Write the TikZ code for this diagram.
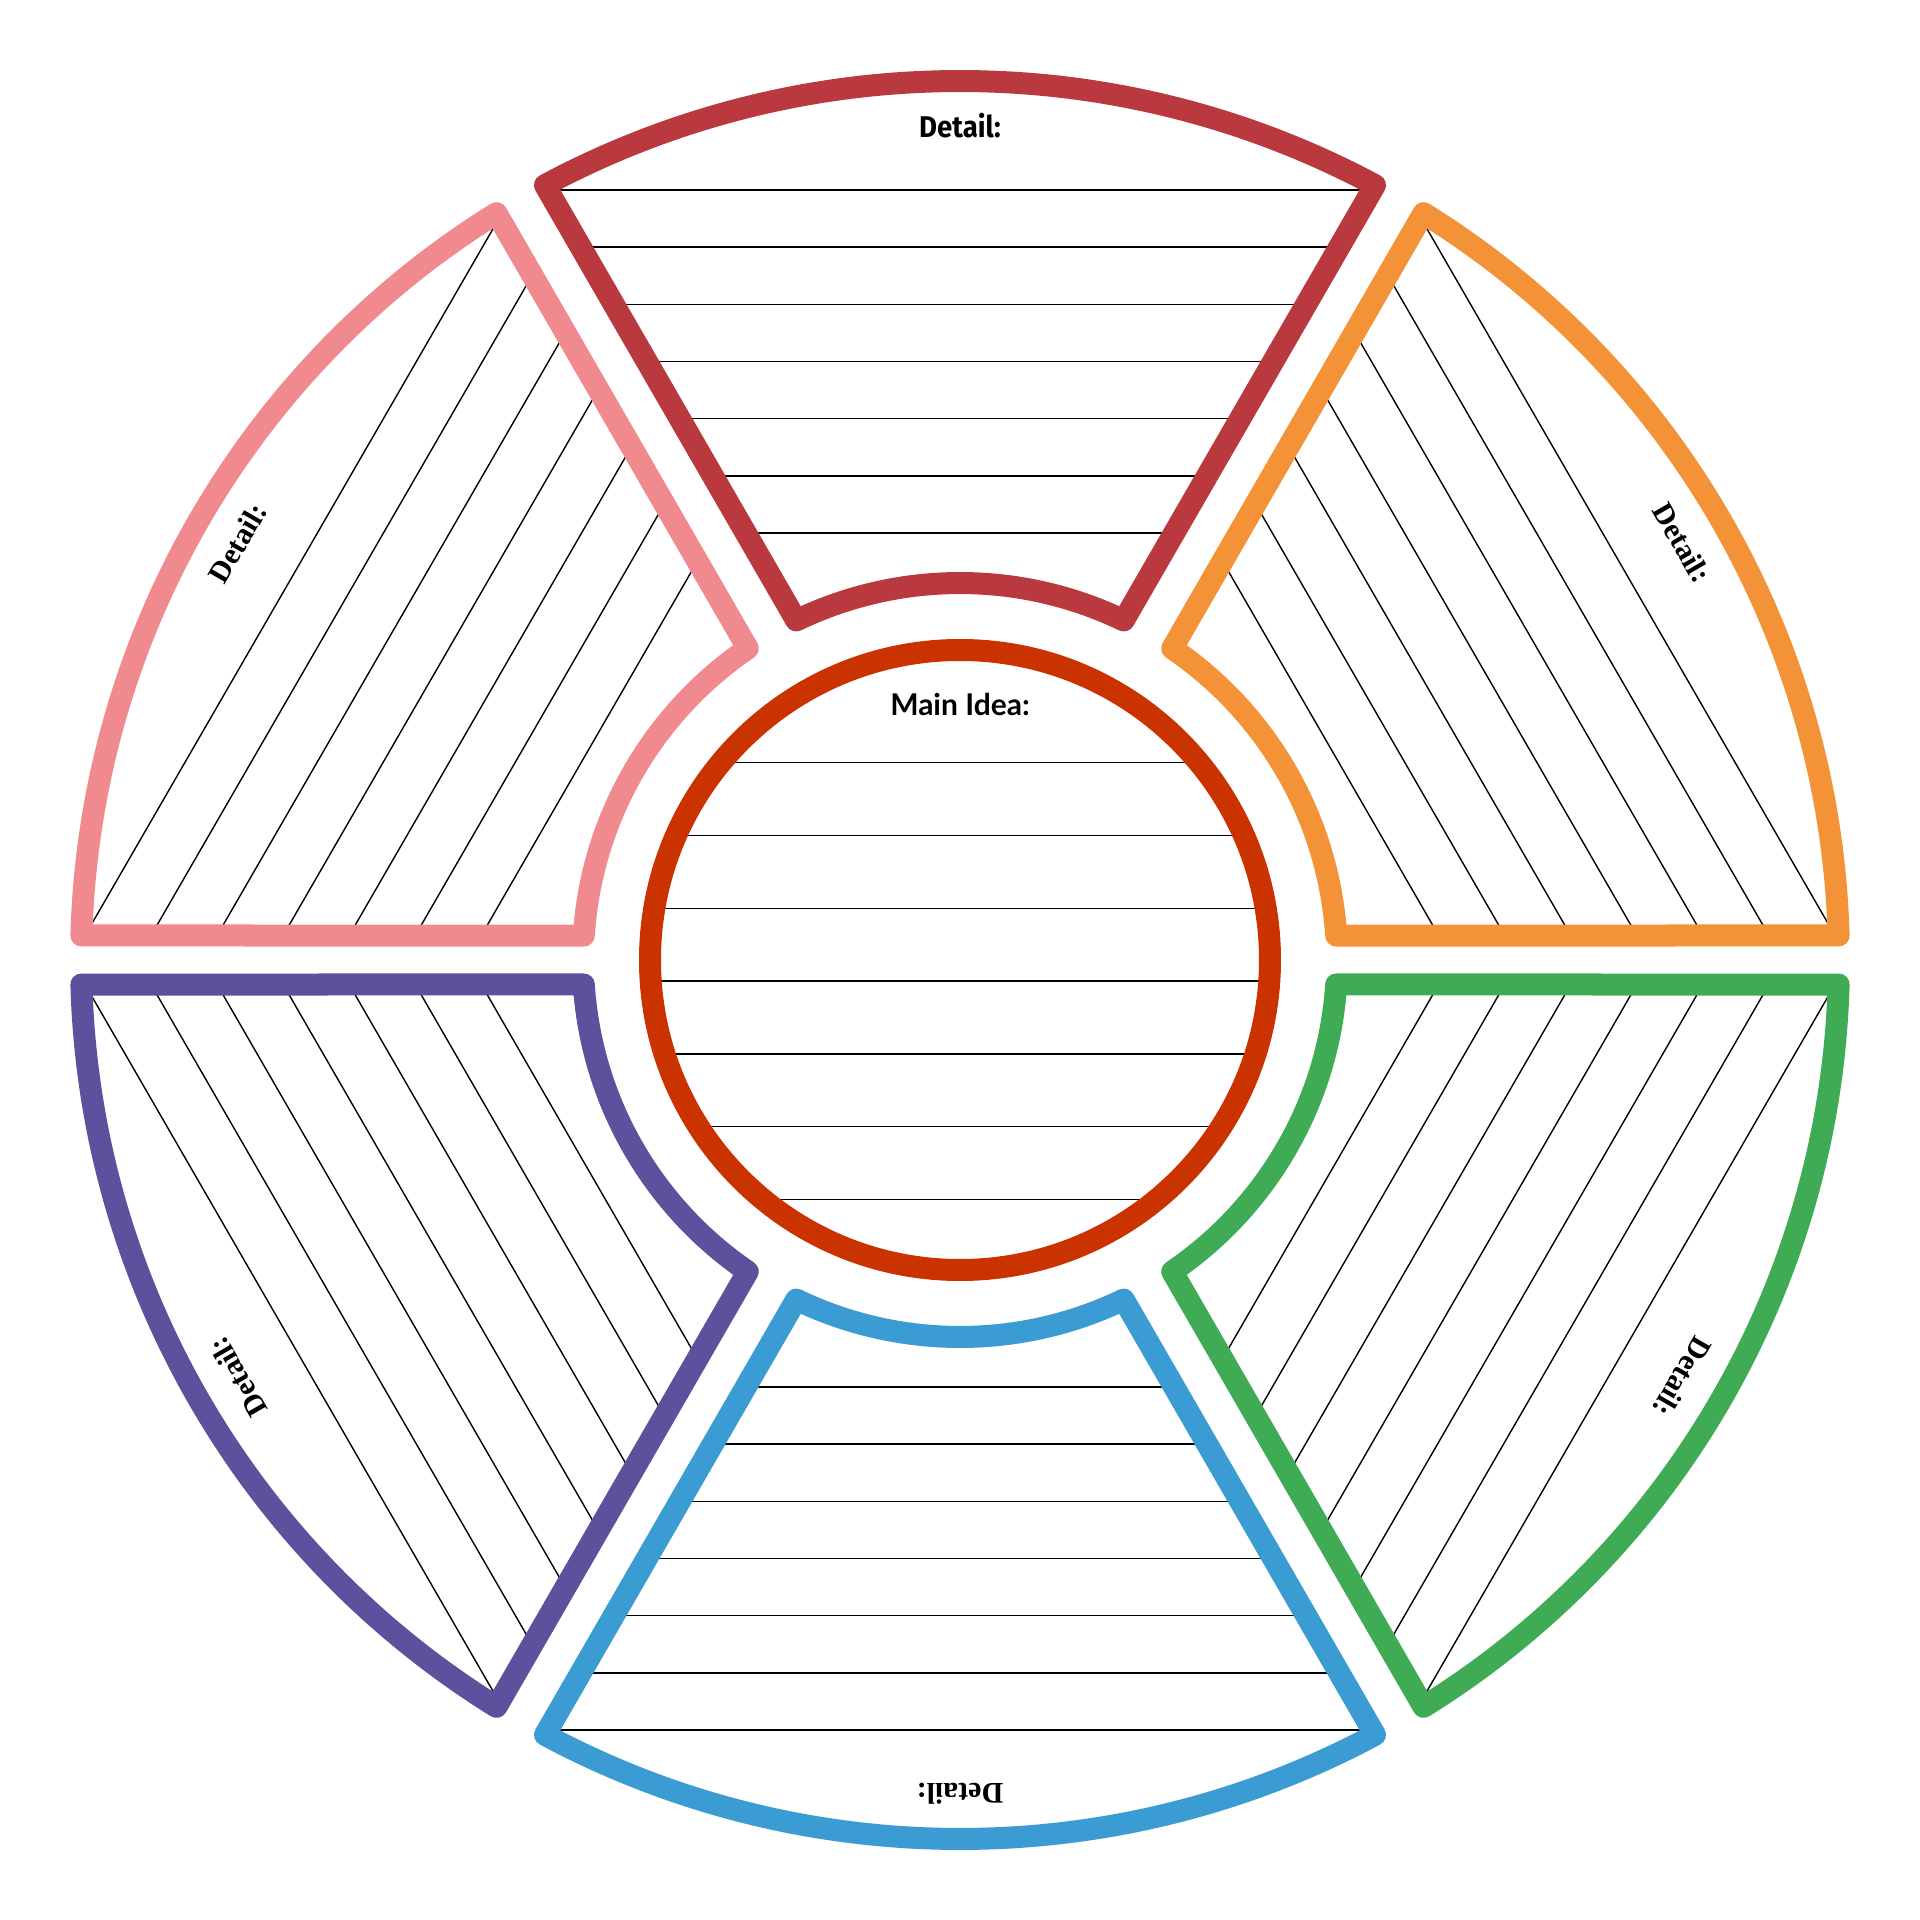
\documentclass[tikz,border=0pt]{standalone}
\usepackage{fontspec}
\setmainfont{Liberation Serif}
\newfontfamily\idfont{Lato}
\newfontfamily\topfont[FakeStretch=0.92]{Fira Sans}
\definecolor{segTop}{RGB}{185,57,63}
\definecolor{segPink}{RGB}{241,138,142}
\definecolor{segOrange}{RGB}{243,146,54}
\definecolor{segGreen}{RGB}{63,171,85}
\definecolor{segBlue}{RGB}{58,156,210}
\definecolor{segPurple}{RGB}{94,80,157}
\definecolor{mainRed}{RGB}{202,51,0}
\begin{document}
\begin{tikzpicture}[
  seg/.style={line width=22pt, line join=round},
  rule/.style={line width=1.4pt, black},
  lbl/.style={font=\fontsize{30}{36}\selectfont\bfseries, inner sep=0pt, text=black},
]
\useasboundingbox (-960pt,-960pt) rectangle (960pt,960pt);
\fill[white] (-960pt,-960pt) rectangle (960pt,960pt);
\foreach \rot/\col/\oa/\ob/\nm/\lf in {0/segTop/28/28/top/\topfont, 60/segPink/28/24.5/pink/\rmfamily, 120/segPurple/24.5/28/purple/\rmfamily, 180/segBlue/28/28/blue/\rmfamily, 240/segGreen/28/24.5/green/\rmfamily, 300/segOrange/24.5/28/orange/\rmfamily}
{
  \begin{scope}[rotate=\rot]
    \pgfmathsetmacro\ta{60+asin(\oa/879)}
    \pgfmathsetmacro\tb{120-asin(\ob/879)}
    \pgfmathsetmacro\tc{120-asin(\ob/377)}
    \pgfmathsetmacro\td{60+asin(\oa/377)}
    \begin{scope}
      \clip (\ta:879pt) arc[start angle=\ta, end angle=\tb, radius=879pt] -- (\tc:377pt) arc[start angle=\tc, end angle=\td, radius=377pt] -- cycle;
      \foreach \i in {0,...,6} {
        \pgfmathsetmacro\yy{770-57.2*\i}
        \draw[rule] (-700pt,\yy pt) -- (700pt,\yy pt);
      }
    \end{scope}
    \draw[seg, draw=\col] (\ta:879pt) arc[start angle=\ta, end angle=\tb, radius=879pt] -- (\tc:377pt) arc[start angle=\tc, end angle=\td, radius=377pt] -- cycle;
    \node[lbl, rotate=\rot, font=\lf\fontsize{30}{36}\selectfont\bfseries] (lab\nm) at (0,834pt) {Detail:};
  \end{scope}
}
\begin{scope}
  \clip (0,0) circle[radius=310pt];
  \foreach \yy in {197.3,124.5,51.7,-21.1,-93.9,-166.7,-239.5}
    \draw[rule] (-400pt,\yy pt) -- (400pt,\yy pt);
\end{scope}
\draw[line width=22pt, mainRed] (0,0) circle[radius=310pt];
\node[lbl, font=\idfont\fontsize{30}{36}\selectfont\bfseries] (mainlabel) at (0,256pt) {Main Idea:};
\end{tikzpicture}
\end{document}
